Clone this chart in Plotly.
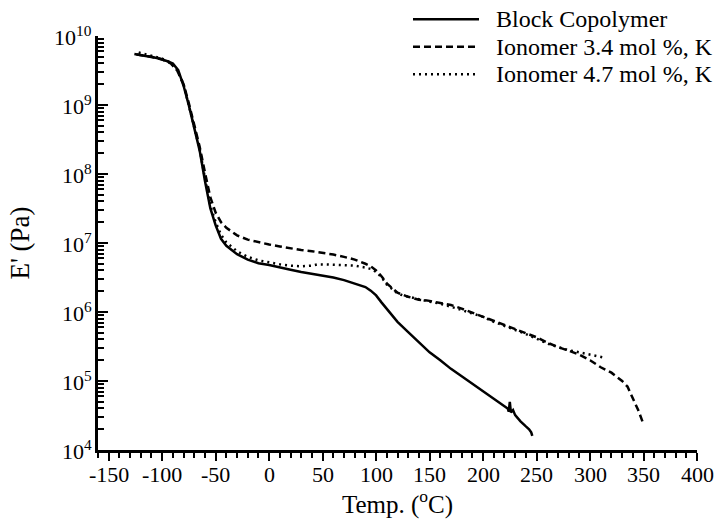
import math
import plotly.graph_objects as go

# Block copolymer (solid)
t_block = [-126, -115, -105, -95, -90, -85, -80, -75, -70, -65, -60, -55, -50, -45, -40,
           -35, -30, -20, -10, 0, 10, 20, 30, 40, 50, 60, 70, 80, 90, 95, 100, 105, 110,
           120, 130, 140, 150, 160, 170, 180, 190, 200, 210, 220, 223, 224, 225, 226, 228,
           230, 235, 240, 243, 245, 246]
e_block = [5.5e9, 5.1e9, 4.8e9, 4.3e9, 4.0e9, 3.2e9, 1.9e9, 9.8e8, 4.8e8, 2.2e8, 7.9e7,
           3.2e7, 1.8e7, 1.15e7, 9.1e6, 7.9e6, 6.9e6, 5.75e6, 5.1e6, 4.8e6, 4.4e6, 4.1e6,
           3.8e6, 3.6e6, 3.4e6, 3.16e6, 2.9e6, 2.6e6, 2.3e6, 2.04e6, 1.74e6, 1.38e6, 1.1e6,
           7.2e5, 5.1e5, 3.6e5, 2.6e5, 2.0e5, 1.5e5, 1.17e5, 9.1e4, 7.1e4, 5.5e4, 4.2e4,
           4.0e4, 3.6e4, 5.0e4, 3.5e4, 3.8e4, 3.2e4, 2.6e4, 2.2e4, 2.0e4, 1.8e4, 1.6e4]

# Ionomer 3.4 mol %, K (dashed)
t_ion34 = [-124, -110, -100, -92, -86, -80, -75, -70, -65, -60, -55, -50, -45, -40, -35,
           -30, -20, -10, 0, 10, 20, 30, 40, 50, 60, 70, 80, 90, 95, 100, 105, 110, 115,
           120, 125, 130, 140, 150, 160, 170, 180, 190, 200, 210, 220, 230, 240, 250, 260,
           270, 280, 290, 300, 310, 320, 330, 335, 340, 345, 349]
e_ion34 = [5.4e9, 5.0e9, 4.6e9, 4.0e9, 3.16e9, 2.0e9, 1.05e9, 5.2e8, 2.5e8, 1.05e8, 4.6e7,
           2.75e7, 2.0e7, 1.66e7, 1.45e7, 1.29e7, 1.12e7, 1.02e7, 9.5e6, 8.9e6, 8.3e6,
           7.9e6, 7.6e6, 7.2e6, 6.8e6, 6.3e6, 5.75e6, 5.0e6, 4.6e6, 4.0e6, 3.3e6, 2.6e6,
           2.2e6, 1.9e6, 1.78e6, 1.66e6, 1.51e6, 1.45e6, 1.35e6, 1.26e6, 1.12e6, 9.8e5,
           8.5e5, 7.4e5, 6.5e5, 5.6e5, 4.9e5, 4.3e5, 3.6e5, 3.1e5, 2.75e5, 2.4e5, 2.0e5,
           1.58e5, 1.32e5, 1.0e5, 8.3e4, 5.6e4, 3.8e4, 2.6e4]

# Ionomer 4.7 mol %, K (dotted)
t_ion47 = [-122, -110, -100, -92, -86, -80, -75, -70, -65, -60, -55, -50, -45, -40, -35,
           -30, -20, -10, 0, 10, 20, 30, 40, 45, 50, 60, 70, 80, 90, 95, 100, 105, 110,
           115, 120, 125, 130, 140, 150, 160, 170, 180, 190, 200, 210, 220, 230, 240, 250,
           260, 270, 280, 290, 300, 312]
e_ion47 = [5.75e9, 5.1e9, 4.7e9, 4.1e9, 3.2e9, 2.0e9, 1.0e9, 5.0e8, 2.3e8, 8.7e7, 3.5e7,
           2.0e7, 1.32e7, 1.02e7, 8.7e6, 7.6e6, 6.3e6, 5.6e6, 5.25e6, 4.9e6, 4.7e6, 4.6e6,
           4.7e6, 4.9e6, 4.9e6, 4.8e6, 4.8e6, 4.7e6, 4.4e6, 4.2e6, 3.8e6, 3.2e6, 2.5e6,
           2.15e6, 1.86e6, 1.74e6, 1.66e6, 1.51e6, 1.41e6, 1.32e6, 1.2e6, 1.07e6, 9.5e5,
           8.5e5, 7.2e5, 6.3e5, 5.5e5, 4.8e5, 4.1e5, 3.5e5, 3.1e5, 2.8e5, 2.6e5, 2.4e5,
           2.2e5]

series_names = ["Block Copolymer", "Ionomer 3.4 mol %, K", "Ionomer 4.7 mol %, K"]
x_ticks = [-150, -100, -50, 0, 50, 100, 150, 200, 250, 300, 350, 400]
x_labels = ["-150", "-100", "-50", "0", "50", "100", "150", "200", "250", "300", "350", "400"]
y_ticks = [1e4, 1e5, 1e6, 1e7, 1e8, 1e9, 1e10]
y_labels = ["10<sup>4</sup>", "10<sup>5</sup>", "10<sup>6</sup>", "10<sup>7</sup>",
            "10<sup>8</sup>", "10<sup>9</sup>", "10<sup>10</sup>"]

FONT = "Liberation Serif, Times New Roman, serif"
W, H = 728, 524
L, R, T, B = 98, 31, 36, 66
pw, ph = W - L - R, H - T - B
XR = [-160, 400]
YR = [4, 10]
TICK = "black"

styles = [dict(color="black", width=2.5, dash="solid"),
          dict(color="black", width=2.5, dash="7px,4px"),
          dict(color="black", width=2.5, dash="2px,4px")]

fig = go.Figure()
for name, tx, ey, st in zip(series_names, [t_block, t_ion34, t_ion47],
                            [e_block, e_ion34, e_ion47], styles):
    fig.add_trace(go.Scatter(x=tx, y=ey, mode="lines", name=name, line=st,
                             showlegend=False))

# manual legend (long line samples like the reference)
leg_rows = [19, 47, 75]
for name, st, py in zip(series_names, styles, leg_rows):
    yp = (H - B - py) / ph
    fig.add_shape(type="line", xref="paper", yref="paper",
                  x0=(413 - L) / pw, x1=(479 - L) / pw, y0=yp, y1=yp,
                  line=st)
    fig.add_annotation(xref="paper", yref="paper", x=(494 - L) / pw, y=yp,
                       text=name, showarrow=False, xanchor="left", yanchor="middle",
                       font=dict(family=FONT, size=24, color="black"))

fig.update_layout(
    width=W, height=H,
    margin=dict(l=L, r=R, t=T, b=B),
    paper_bgcolor="white", plot_bgcolor="white",
    font=dict(family=FONT, size=22, color="black"),
    showlegend=False,
)
fig.update_xaxes(
    range=XR, tickmode="linear", tick0=0, dtick=50,
    ticks="outside", ticklen=8, tickwidth=2, tickcolor=TICK,
    minor=dict(dtick=10, ticks="outside", ticklen=5, tickwidth=2, tickcolor=TICK),
    showline=True, linecolor="black", linewidth=2.5,
    showgrid=False, zeroline=False, showticklabels=False,
    title=dict(text="Temp. (<sup>o</sup>C)", font=dict(family=FONT, size=25),
               standoff=36),
)
fig.update_yaxes(
    type="log", range=YR, dtick=1,
    ticks="inside", ticklen=10, tickwidth=2, tickcolor=TICK,
    minor=dict(dtick="D1", ticks="inside", ticklen=6, tickwidth=1.5, tickcolor=TICK),
    showline=True, linecolor="black", linewidth=2.5,
    showgrid=False, zeroline=False, showticklabels=False,
    title=dict(text="E' (Pa)", font=dict(family=FONT, size=27), standoff=58),
)
# tick labels placed on the axes' own scales (log axis annotations use log10 units)
for v, s in zip(x_ticks, x_labels):
    fig.add_annotation(x=v, xref="x", y=0, yref="paper", yshift=-10, text=s,
                       showarrow=False, yanchor="top",
                       font=dict(family=FONT, size=22, color="black"))
for v, s in zip(y_ticks, y_labels):
    fig.add_annotation(x=0, xref="paper", y=math.log10(v), yref="y", xshift=-4, text=s,
                       showarrow=False, xanchor="right", yanchor="middle",
                       font=dict(family=FONT, size=22, color="black"))

fig.write_html("out.html")
